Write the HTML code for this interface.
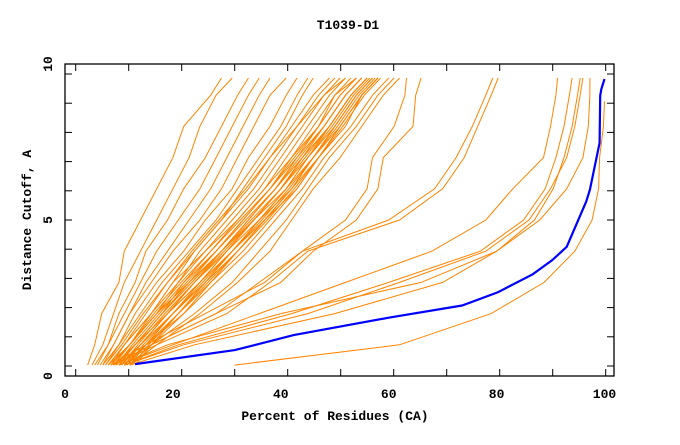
<!DOCTYPE html>
<html><head><meta charset="utf-8"><style>
body{margin:0;background:#fff;}
svg text{font-family:"Liberation Mono",monospace;font-weight:bold;font-size:13px;fill:#000;}
</style></head><body>
<svg id="chart" width="680" height="440" viewBox="0 0 680 440" xmlns="http://www.w3.org/2000/svg">
<rect x="0" y="0" width="680" height="440" fill="#fff"/>
<text x="348" y="29" text-anchor="middle">T1039-D1</text>
<text x="335" y="420" text-anchor="middle">Percent of Residues (CA)</text>
<text transform="translate(31,220) rotate(-90)" text-anchor="middle">Distance Cutoff, A</text>
<g id="series"></g>
<g id="axes"></g>
</svg>
<script>
const yLevels = [0.35,1,2,3,4,5,6,7,8,9,9.55];
const orangeSeries = [
[4.2,5.5,6.8,10,11,14,17,20,22,27,29],
[5,7,9,11,14,17,20,23,25,28,31],
[5.5,8,10,13,15,19,22,26,29,32,34],
[6,8,11,14,17,21,25,28,31,34,36],
[6.5,9,12,15,19,23,27,30,33,36,38],
[7,9,12,16,20,25,29,32,35,38,41],
[7,10,13,17,22,26,31,34,38,41,43],
[7.5,10,14,18,23,28,32,36,40,43,45],
[8,11,15,19,24,29,33,37,41,44,46],
[8,11,16,20,26,31,36,40,44,48,51],
[8.5,12,17,21,26,32,37,41,45,49,52],
[9,12,17,22,27,32,37,42,46,50,53],
[9,13,18,22,28,33,38,42,47,50,54],
[9.5,13,18,23,28,33,38,43,47,51,54],
[10,13,18,23,29,34,39,43,48,52,55],
[10,14,19,24,29,34,39,44,48,52,55],
[10.5,14,19,24,30,35,40,44,49,53,56],
[11,14,19,25,30,35,40,45,49,53,56],
[11,15,20,25,31,36,41,45,50,54,57],
[11.5,15,20,26,31,36,41,46,50,54,57],
[12,15,21,26,32,37,42,46,51,55,58],
[12,16,21,27,32,37,42,47,51,55,58],
[13,16,22,27,33,38,43,47,52,55,58],
[8,12,17,23,29,35,40,44,49,53,56],
[9,13,19,25,30,36,42,46,50,54,57],
[10,14,20,26,31,37,43,47,51,55,58],
[8.5,11,16,21,25,30,35,39,43,47,50],
[9,12,16,20,24,29,34,38,43,48,52],
[9.5,12.5,17.5,22.5,28,33.5,39,43.5,48,52,55],
[10.5,13.5,18.5,24,29.5,35,41,45,49.5,53.5,56.5],
[11.5,14.5,20,25.5,31,36.5,41.5,46,50.5,54.5,57.5],
[8.5,12,16.5,21.5,27,32.5,38,42.5,47,51,54],
[9.5,13,18,23.5,29,34.5,40,44.5,49,53,56],
[12.5,15.5,21,26.5,32,37.5,42.5,47,51.5,55.5,58.5],
[7.5,10.5,14.5,19,23.5,28.5,33.5,38,42,46,49],
[12,16,24,31,36,41,45,49,54,58,61],
[12,17,25,32,38,42,46,51,55,59,62],
[11,15,22,28,34,39,44,48,53,57,60],
[9,16,28,40,46,54,58,59,64.5,65,66],
[8.5,15,26,37,44,52,56,57,61,63,63.3],
[9,17,30,38,45,62,70,74,76.5,79,80.3],
[9,16,28,36,44,60,68.5,72.5,75.5,78,79.3],
[10,20,36,52,68,78,83,88.7,90,91,91.3],
[11,21,42,60,77,85,89,91,92.5,93.5,94],
[10,19,40,66,80,87,90.5,92.5,94,95,95.5],
[11,22,45,62,78,86,90,93,94.5,95.5,96],
[12,24,50,70,80,88,93,96,97,97.3,97.3]
];
const lowSeriesX = [31.4,62,79,88.8,94.5,97.7,98.9,99.1,99.8,100];
const lowSeriesY = [0.35,1,2,3,4,5,6,7,8,8.8];
const blueX = [13.0,31.5,42.4,60.4,73.6,80.3,86.7,90.3,93.0,96.6,97.3,99.1,99.2,99.4,100];
const blueY = [0.38,0.83,1.31,1.88,2.26,2.69,3.26,3.71,4.14,5.59,5.97,7.47,8.98,9.19,9.52];
const xTickLabels = [0,20,40,60,80,100];
const yTickLabels = [0,5,10];

const L=65,R=614,T=64,B=376;
const sx = v => L + v*5.395;
const sy = v => B - v*31.2;
const NS="http://www.w3.org/2000/svg";
const g=document.getElementById('series');
const ax=document.getElementById('axes');
function poly(xs,ys,color,w,name){
  const p=document.createElementNS(NS,'polyline');
  p.setAttribute('points',xs.map((x,i)=>sx(x).toFixed(1)+','+sy(ys[i]).toFixed(1)).join(' '));
  p.setAttribute('fill','none');
  p.setAttribute('stroke',color);
  p.setAttribute('stroke-width',w);
  
  
  g.appendChild(p);
}
orangeSeries.forEach((s,i)=>poly(s,yLevels,'#ff8400',1,'model-line-'+(i+1)));
poly(lowSeriesX,lowSeriesY,'#ff8400',1,'model-line-low');
poly(blueX,blueY,'#0000ff',2.2,'target-line');

const fr=document.createElementNS(NS,'rect');
fr.setAttribute('x',L);
fr.setAttribute('y',T);
fr.setAttribute('width',R-L);
fr.setAttribute('height',B-T);
fr.setAttribute('fill','none');
fr.setAttribute('stroke','#000');
fr.setAttribute('stroke-width',1.3);


ax.appendChild(fr);
function line(x1,y1,x2,y2,name){
  const l=document.createElementNS(NS,'line');
  l.setAttribute('x1',x1);
  l.setAttribute('y1',y1);
  l.setAttribute('x2',x2);
  l.setAttribute('y2',y2);
  l.setAttribute('stroke','#000');
  l.setAttribute('stroke-width',1);
  
  
  ax.appendChild(l);
}
for(let k=-5;k<=5;k++){const y=220+k*29.2; if(y>T+4&&y<B-4){line(L,y,L+7,y,'y-tick');line(R,y,R-7,y,'y-tick');}}
for(let k=-3;k<=9;k++){const x=181.7+k*53; if(x>L+4&&x<R-4){line(x,B,x,B-7,'x-tick');line(x,T,x,T+7,'x-tick');}}
xTickLabels.forEach(v=>{
  const t=document.createElementNS(NS,'text');
  t.setAttribute('x',sx(v));
  t.setAttribute('y',B+22);
  t.setAttribute('text-anchor','middle');
  t.textContent=v;
  
  
  ax.appendChild(t);
});
yTickLabels.forEach(v=>{
  const t=document.createElementNS(NS,'text');
  const y=B-(B-T)*v/10;
  t.setAttribute('transform','translate(52,'+y+') rotate(-90)');
  t.setAttribute('text-anchor','middle');
  t.textContent=v;
  
  
  ax.appendChild(t);
});
</script>
</body></html>
